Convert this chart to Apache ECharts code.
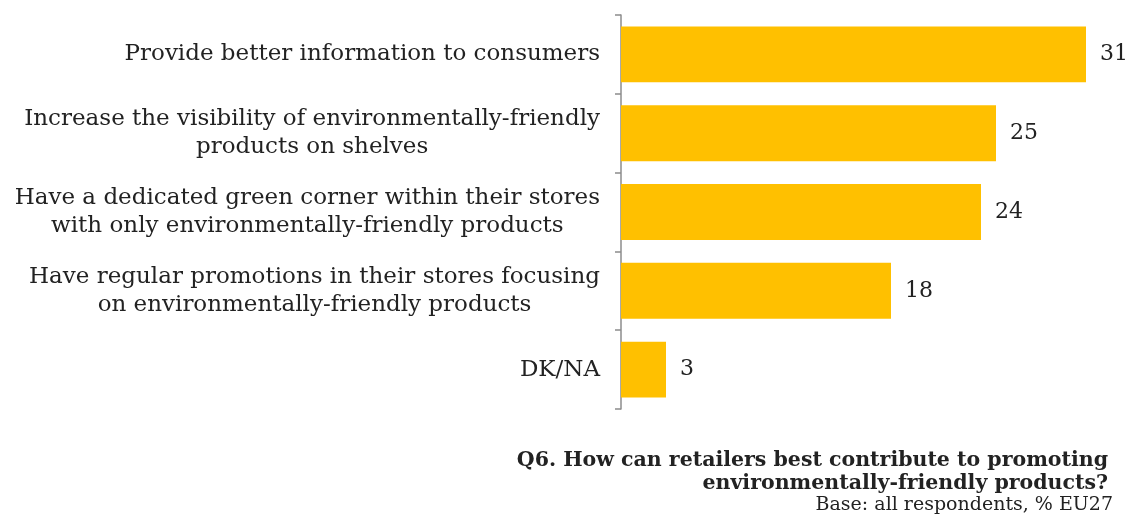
<!DOCTYPE html>
<html>
<head>
<meta charset="utf-8">
<script src="https://cdn.jsdelivr.net/npm/echarts@6/dist/echarts.min.js"></script>
<style>
  html, body { margin: 0; padding: 0; background: #fff; }
  #chart { width: 1133px; height: 523px; }
</style>
</head>
<body>
<div id="chart"></div>
<script>
// Survey answers (top to bottom) and the share of respondents for each
const categories = [
  'Provide better information to consumers',
  'Increase the visibility of environmentally-friendly\nproducts on shelves',
  'Have a dedicated green corner within their stores\nwith only environmentally-friendly products',
  'Have regular promotions in their stores focusing\non environmentally-friendly products',
  'DK/NA'
];
const values = [31, 25, 24, 18, 3];

const questionLines = [
  'Q6. How can retailers best contribute to promoting',
  'environmentally-friendly products?'
];
const baseNote = 'Base: all respondents, % EU27';

const SERIF = '"DejaVu Serif", Georgia, serif';
const TEXT = '#222222';

const chart = echarts.init(document.getElementById('chart'));

chart.setOption({
  animation: false,
  backgroundColor: '#ffffff',
  grid: { left: 621, right: 17, top: 15, bottom: 114, containLabel: false },
  xAxis: {
    type: 'value',
    min: 0,
    max: 33,
    show: false
  },
  yAxis: {
    type: 'category',
    inverse: true,
    data: categories,
    axisLine: { show: true, lineStyle: { color: '#8c8c8c', width: 1.5 } },
    axisTick: { show: true, length: 6, lineStyle: { color: '#8c8c8c', width: 1.5 } },
    axisLabel: {
      margin: 21,
      formatter: function (v) {
        return v.split('\n').map(function (l) { return '{c|' + l + '}'; }).join('\n');
      },
      rich: {
        c: {
          align: 'center',
          fontFamily: SERIF,
          fontSize: 23,
          lineHeight: 28,
          color: TEXT
        }
      }
    }
  },
  series: [{
    type: 'bar',
    data: values,
    barCategoryGap: '29%',
    itemStyle: { color: '#FFC000' },
    label: {
      show: true,
      position: 'right',
      distance: 14,
      fontFamily: SERIF,
      fontSize: 22,
      color: TEXT
    }
  }],
  graphic: [
    {
      type: 'text',
      right: 25,
      top: 450,
      style: {
        text: questionLines[0],
        font: 'bold 20.5px ' + SERIF,
        fill: TEXT
      }
    },
    {
      type: 'text',
      right: 25,
      top: 473,
      style: {
        text: questionLines[1],
        font: 'bold 20.5px ' + SERIF,
        fill: TEXT
      }
    },
    {
      type: 'text',
      right: 20,
      top: 496,
      style: {
        text: baseNote,
        font: '19px ' + SERIF,
        fill: TEXT
      }
    }
  ]
});
</script>
</body>
</html>
